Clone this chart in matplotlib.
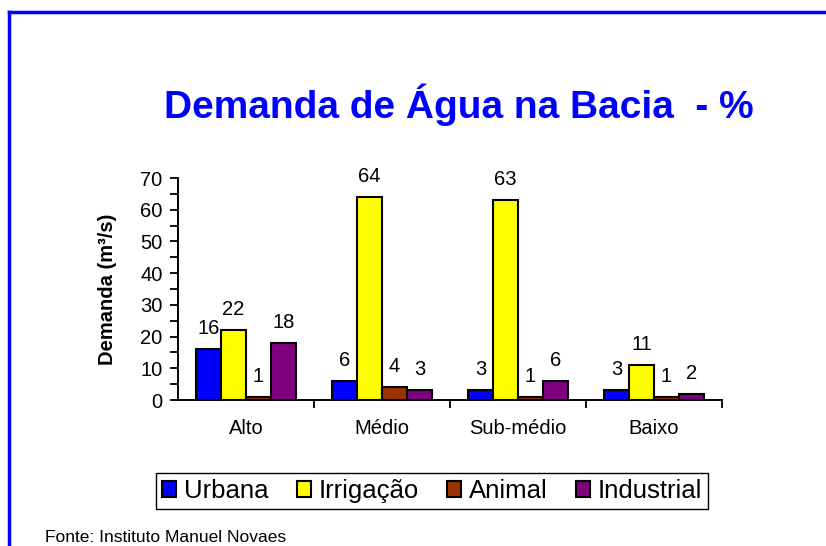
import numpy as np
import matplotlib
matplotlib.use("Agg")
import matplotlib.pyplot as plt
from matplotlib.lines import Line2D
from matplotlib.ticker import MultipleLocator, FixedLocator

plt.rcParams['font.family'] = ['Liberation Sans', 'DejaVu Sans']

regioes = ['Alto', 'Médio', 'Sub-médio', 'Baixo']
usos = ['Urbana', 'Irrigação', 'Animal', 'Industrial']
urbana = [16, 6, 3, 3]
irrigacao = [22, 64, 63, 11]
animal = [1, 4, 1, 1]
industrial = [18, 3, 6, 2]
cores = ['#0000FF', '#FFFF00', '#993300', '#800080']

fig = plt.figure(figsize=(8.26, 5.46), dpi=100)
ax = fig.add_axes([178/826, 1 - 400/546, (722 - 178)/826, (400 - 178)/546])

x = np.arange(len(regioes))
w = 0.184
series = [urbana, irrigacao, animal, industrial]
for i, (vals, cor, nome) in enumerate(zip(series, cores, usos)):
    bars = ax.bar(x + (i - 1.5)*w, vals, w, color=cor, edgecolor='black',
                  linewidth=1.5, label=nome, zorder=3)
    for b, v in zip(bars, vals):
        ax.annotate(str(v), (b.get_x() + b.get_width()/2, b.get_height()),
                    xytext=(0, 8), textcoords='offset points',
                    ha='center', va='bottom', fontsize=14.5)

ax.set_xlim(-0.5, 3.5)
ax.set_ylim(0, 70)
ax.spines['top'].set_visible(False)
ax.spines['right'].set_visible(False)
ax.spines['left'].set_linewidth(1.4)
ax.spines['bottom'].set_linewidth(1.4)

ax.yaxis.set_major_locator(MultipleLocator(10))
ax.yaxis.set_minor_locator(MultipleLocator(5))
ax.tick_params(axis='y', which='both', length=6, width=1.3, direction='out',
               labelsize=14.5, pad=5)
ax.set_xticks(x)
ax.set_xticklabels(regioes, fontsize=14.5)
ax.tick_params(axis='x', which='major', length=0, pad=14)
ax.xaxis.set_minor_locator(FixedLocator([0.5, 1.5, 2.5, 3.5]))
ax.tick_params(axis='x', which='minor', length=6, width=1.3, direction='out')

ax.set_ylabel('Demanda (m³/s)', fontsize=14.5, fontweight='bold',
              labelpad=17)

fig.text(0.555, 1 - 105/546, 'Demanda de Água na Bacia  - %', ha='center',
         va='center', fontsize=28, fontweight='bold', color='#0000FF')

fig.legend(loc='center', bbox_to_anchor=(432/826, 1 - 491/546), ncol=4,
           fontsize=18.5, handlelength=0.55, handleheight=0.55,
           handletextpad=0.3, columnspacing=1.1, fancybox=False,
           edgecolor='black', framealpha=1, borderpad=0.25)

fig.text(45/826, 1 - 538/546, 'Fonte: Instituto Manuel Novaes', ha='left',
         va='center', fontsize=12.5)

fig.add_artist(Line2D([9/826, 1], [1 - 12/546, 1 - 12/546], color='#0000FF',
                      linewidth=2.5, transform=fig.transFigure))
fig.add_artist(Line2D([9/826, 9/826], [1 - 12/546, 0], color='#0000FF',
                      linewidth=2.5, transform=fig.transFigure))

fig.savefig('out.png', dpi=100)
